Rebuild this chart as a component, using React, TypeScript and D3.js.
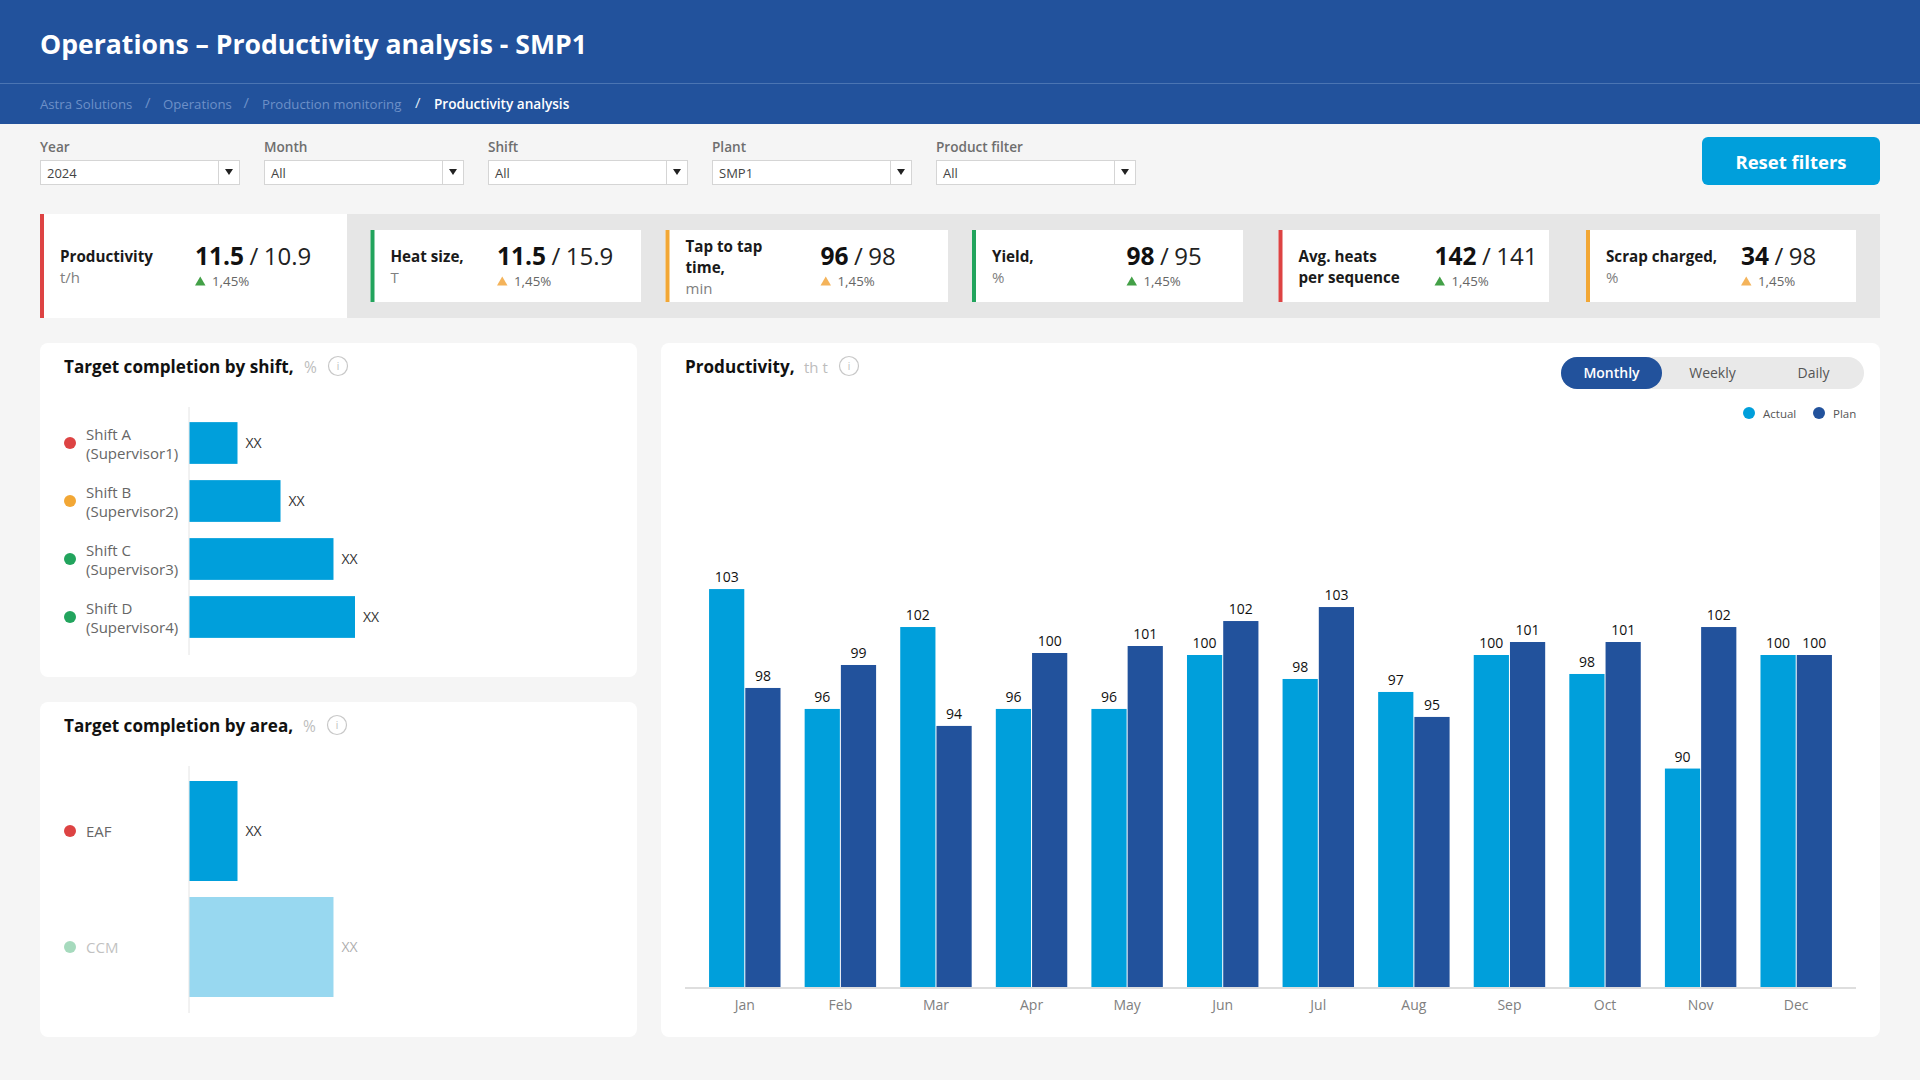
import * as React from "react";
import * as d3 from "d3";

// chart data
const months = ["Jan", "Feb", "Mar", "Apr", "May", "Jun", "Jul", "Aug", "Sep", "Oct", "Nov", "Dec"];
const actualLabels = [103, 96, 102, 96, 96, 100, 98, 97, 100, 98, 90, 100];
const planLabels = [98, 99, 94, 100, 101, 102, 103, 95, 101, 101, 102, 100];
// the drawn bars do not follow their labels in the picture (two "103" bars differ),
// so lengths are read separately, relative to a bar labelled 100
const actualLengths = [119.8, 83.8, 108.4, 83.8, 83.8, 100, 92.8, 88.9, 100, 94.3, 65.9, 100];
const planLengths = [90.1, 97, 78.7, 100.6, 102.7, 110.2, 114.4, 81.4, 103.9, 103.9, 108.4, 100];

const shiftNames = ["Shift A", "Shift B", "Shift C", "Shift D"];
const shiftSupervisors = ["(Supervisor1)", "(Supervisor2)", "(Supervisor3)", "(Supervisor4)"];
const shiftStatus = ["bad", "warn", "good", "good"];
const shiftLengths = [29, 55, 87, 100];

const areaNames = ["EAF", "CCM"];
const areaStatus = ["bad", "good"];
const areaLengths = [29, 87];

const kpiTitles = [["Productivity"], ["Heat size,"], ["Tap to tap", "time,"], ["Yield,"], ["Avg. heats", "per sequence"], ["Scrap charged,"]];
const kpiUnits = ["t/h", "T", "min", "%", "", "%"];
const kpiActual = ["11.5", "11.5", "96", "98", "142", "34"];
const kpiTarget = ["10.9", "15.9", "98", "95", "141", "98"];
const kpiDelta = ["1,45%", "1,45%", "1,45%", "1,45%", "1,45%", "1,45%"];
const kpiStatus = ["bad", "good", "warn", "good", "bad", "warn"];
const kpiTrend = ["good", "warn", "warn", "good", "good", "warn"];

const filterLabels = ["Year", "Month", "Shift", "Plant", "Product filter"];
const filterValues = ["2024", "All", "All", "SMP1", "All"];
const crumbs = ["Astra Solutions", "Operations", "Production monitoring"];
const periods = ["Monthly", "Weekly", "Daily"];

// colours and layout
const FONT = "'Open Sans', 'Noto Sans', sans-serif";
const BLUE = "#22529c";
const CYAN = "#009fdb";
const STATUS: any = { bad: "#dd4343", warn: "#f2a735", good: "#22a45d" };
const TREND: any = { good: "#43a047", warn: "#f4b35a" };

const cardLeft = [40, 370.5, 665.5, 972, 1278.5, 1586];
const cardRight = [347, 641, 948, 1243, 1549, 1856];
const valueLeft = [195, 497, 820.5, 1126.5, 1434.5, 1741];
const crumbX = [40, 163, 262];
const crumbSlashX = [145, 243.5, 415, 434];

function Info({ cx, cy }: { cx: number, cy: number }) {
    return (
        <g>
            <circle cx={cx} cy={cy} r={9.5} fill="#fff" stroke="#c8c8c8" strokeWidth={1.2} />
            <text x={cx} y={cy + 4} textAnchor="middle" fontSize={10} fill="#bbb">i</text>
        </g>
    );
}

function Kpi({ i }: { i: number }) {
    const first = i === 0;
    const top = first ? 214 : 230;
    const bottom = first ? 318 : 302;
    const lines = kpiTitles[i];
    const titleY = lines.length === 2 && kpiUnits[i] ? 251.5 : 262;
    const up = valueLeft[i];
    return (
        <g>
            <rect x={cardLeft[i]} y={top} width={cardRight[i] - cardLeft[i]} height={bottom - top} fill="#fff" />
            <rect x={cardLeft[i]} y={top} width={4} height={bottom - top} fill={STATUS[kpiStatus[i]]} />
            {lines.map((l, j) => (
                <text key={l} x={cardLeft[i] + 20} y={titleY + j * 21} fontSize={15.2} fontWeight={700} fill="#1a1a1a">{l}</text>
            ))}
            {kpiUnits[i] && (
                <text x={cardLeft[i] + 20} y={titleY + lines.length * 21} fontSize={15} fill="#808080">{kpiUnits[i]}</text>
            )}
            <text x={up} y={265} fontSize={24} fill="#222">
                <tspan fontWeight={700} fontSize={24.5} fill="#111">{kpiActual[i]}</tspan>
                <tspan dx={5.5}>/</tspan>
                <tspan dx={5.5}>{kpiTarget[i]}</tspan>
            </text>
            <path d={`M${up} 285.5 L${up + 10.5} 285.5 L${up + 5.25} 276.5 Z`} fill={TREND[kpiTrend[i]]} />
            <text x={up + 17} y={286} fontSize={13.3} fill="#666">{kpiDelta[i]}</text>
        </g>
    );
}

function HBars({ names, sub, status, lengths, top, bottom, axisTop, axisBottom, faded, gap }: any) {
    const x = d3.scaleLinear().domain([0, 100]).range([189.5, 355]);
    const y = d3.scaleBand<string>().domain(names).range([top, bottom]).paddingInner(gap).paddingOuter(gap / 2);
    return (
        <g>
            <line x1={189} x2={189} y1={axisTop} y2={axisBottom} stroke="#e4e4e4" />
            {names.map((n: string, i: number) => {
                const cy = y(n)! + y.bandwidth() / 2;
                const fade = faded === n ? 0.4 : 1;
                return (
                    <g key={n} opacity={fade}>
                        <circle cx={70} cy={cy} r={6} fill={STATUS[status[i]]} />
                        {sub ? (
                            <text fontSize={15} fill="#666">
                                <tspan x={86} y={cy - 3.5}>{n}</tspan>
                                <tspan x={86} y={cy + 15.5}>{sub[i]}</tspan>
                            </text>
                        ) : (
                            <text x={86} y={cy + 6} fontSize={15} fill="#666">{n}</text>
                        )}
                        <rect x={x(0)} y={y(n)} width={x(lengths[i]) - x(0)} height={y.bandwidth()} fill={CYAN} />
                        <text x={x(lengths[i]) + 8} y={cy + 5} fontSize={14} fill="#333">XX</text>
                    </g>
                );
            })}
        </g>
    );
}

function Columns() {
    const axisRef = React.useRef<SVGGElement>(null);
    const baseY = 988;
    const x = d3.scaleBand<string>().domain(months).range([697, 1844]).paddingInner(0.2525).paddingOuter(0.12625);
    const sub = d3.scaleBand<string>().domain(["Actual", "Plan"]).range([0, x.bandwidth()]).paddingInner(0.028);
    const y = d3.scaleLinear().domain([0, 100]).range([baseY, 655]);

    React.useEffect(() => {
        const g = d3.select(axisRef.current as SVGGElement);
        g.call(d3.axisBottom(x).tickSize(0).tickPadding(12) as any);
        g.select(".domain").remove();
        g.selectAll("text").attr("font-size", 14).attr("font-family", FONT).attr("fill", "#808080");
    }, []);

    const series = [
        { key: "Actual", color: CYAN, lengths: actualLengths, labels: actualLabels },
        { key: "Plan", color: BLUE, lengths: planLengths, labels: planLabels },
    ];
    return (
        <g>
            {series.map(s => months.map((m, i) => (
                <g key={s.key + m}>
                    <rect x={x(m)! + sub(s.key)!} y={y(s.lengths[i])} width={sub.bandwidth()} height={baseY - y(s.lengths[i])} fill={s.color} />
                    <text x={x(m)! + sub(s.key)! + sub.bandwidth() / 2} y={y(s.lengths[i]) - 7} textAnchor="middle" fontSize={14} fill="#111">{s.labels[i]}</text>
                </g>
            )))}
            <line x1={685} x2={1856} y1={baseY} y2={baseY} stroke="#dedede" strokeWidth={2} />
            <g ref={axisRef} transform={`translate(0,${baseY})`} />
        </g>
    );
}

export default function App() {
    return (
        <svg width={1920} height={1080} viewBox="0 0 1920 1080" fontFamily={FONT} style={{ position: "absolute", left: 0, top: 0, display: "block" }}>
            <rect width={1920} height={1080} fill="#f5f5f5" />

            {/* header */}
            <rect width={1920} height={124} fill={BLUE} />
            <line x1={0} x2={1920} y1={83.5} y2={83.5} stroke="#4b75b3" />
            <text x={40} y={54} fontSize={26.6} fontWeight={700} fill="#fff">Operations – Productivity analysis - SMP1</text>
            {crumbs.map((c, i) => (
                <text key={c} x={crumbX[i]} y={109} fontSize={13.2} fill="#6d90c8">{c}</text>
            ))}
            {crumbSlashX.slice(0, 3).map((sx, i) => (
                <text key={sx} x={sx} y={108} fontSize={15} fill={i === 2 ? "#dfe8f5" : "#6d90c8"}>/</text>
            ))}
            <text x={crumbSlashX[3]} y={109} fontSize={13.6} fontWeight={600} fill="#fff">Productivity analysis</text>

            {/* filters */}
            {filterLabels.map((l, i) => {
                const fx = 40 + i * 224;
                return (
                    <g key={l}>
                        <text x={fx} y={152} fontSize={13.6} fontWeight={600} fill="#6e6e6e">{l}</text>
                        <rect x={fx + 0.5} y={160.5} width={199} height={24} fill="#fff" stroke="#d5d5d5" />
                        <line x1={fx + 178.5} x2={fx + 178.5} y1={161} y2={184} stroke="#d5d5d5" />
                        <path d={`M${fx + 185} 169 L${fx + 193} 169 L${fx + 189} 175 Z`} fill="#222" />
                        <text x={fx + 7} y={178} fontSize={13} fill="#444">{filterValues[i]}</text>
                    </g>
                );
            })}
            <rect x={1702} y={137} width={178} height={48} rx={6} fill={CYAN} />
            <text x={1791} y={169} textAnchor="middle" fontSize={18.5} fontWeight={700} fill="#fff">Reset filters</text>

            {/* KPI strip */}
            <rect x={40} y={214} width={1840} height={104} fill="#e6e6e6" />
            {kpiTitles.map((_, i) => <Kpi key={i} i={i} />)}

            {/* panels */}
            <rect x={40} y={343} width={597} height={334} rx={8} fill="#fff" />
            <rect x={40} y={702} width={597} height={335} rx={8} fill="#fff" />
            <rect x={661} y={343} width={1219} height={694} rx={8} fill="#fff" />

            <text x={64} y={373} fontSize={17.1} fontWeight={700} fill="#111">Target completion by shift,</text>
            <text x={304} y={373} fontSize={15.5} fill="#bdbdbd">%</text>
            <Info cx={338} cy={366} />
            <HBars names={shiftNames} sub={shiftSupervisors} status={shiftStatus} lengths={shiftLengths} top={414} bottom={646} axisTop={407} axisBottom={655} gap={0.28} />

            <text x={64} y={732} fontSize={17.1} fontWeight={700} fill="#111">Target completion by area,</text>
            <text x={303} y={732} fontSize={15.5} fill="#bdbdbd">%</text>
            <Info cx={337} cy={725} />
            <HBars names={areaNames} status={areaStatus} lengths={areaLengths} top={773} bottom={1005} axisTop={766} axisBottom={1013} faded="CCM" gap={0.138} />

            <text x={685} y={373} fontSize={17.1} fontWeight={700} fill="#111">Productivity,</text>
            <text x={804} y={373} fontSize={15} fill="#bdbdbd">th t</text>
            <Info cx={849} cy={366} />

            {/* period switch */}
            <rect x={1561} y={357} width={303} height={32} rx={16} fill="#e9e9e9" />
            <rect x={1561} y={357} width={101} height={32} rx={16} fill={BLUE} />
            {periods.map((p, i) => (
                <text key={p} x={1611.5 + i * 101} y={378} textAnchor="middle" fontSize={14} fontWeight={i === 0 ? 600 : 400} fill={i === 0 ? "#fff" : "#555"}>{p}</text>
            ))}

            {/* legend */}
            <circle cx={1749} cy={413} r={6} fill={CYAN} />
            <text x={1763} y={418} fontSize={11.5} fill="#555">Actual</text>
            <circle cx={1819} cy={413} r={6} fill={BLUE} />
            <text x={1833} y={418} fontSize={11.5} fill="#555">Plan</text>

            <Columns />
        </svg>
    );
}
